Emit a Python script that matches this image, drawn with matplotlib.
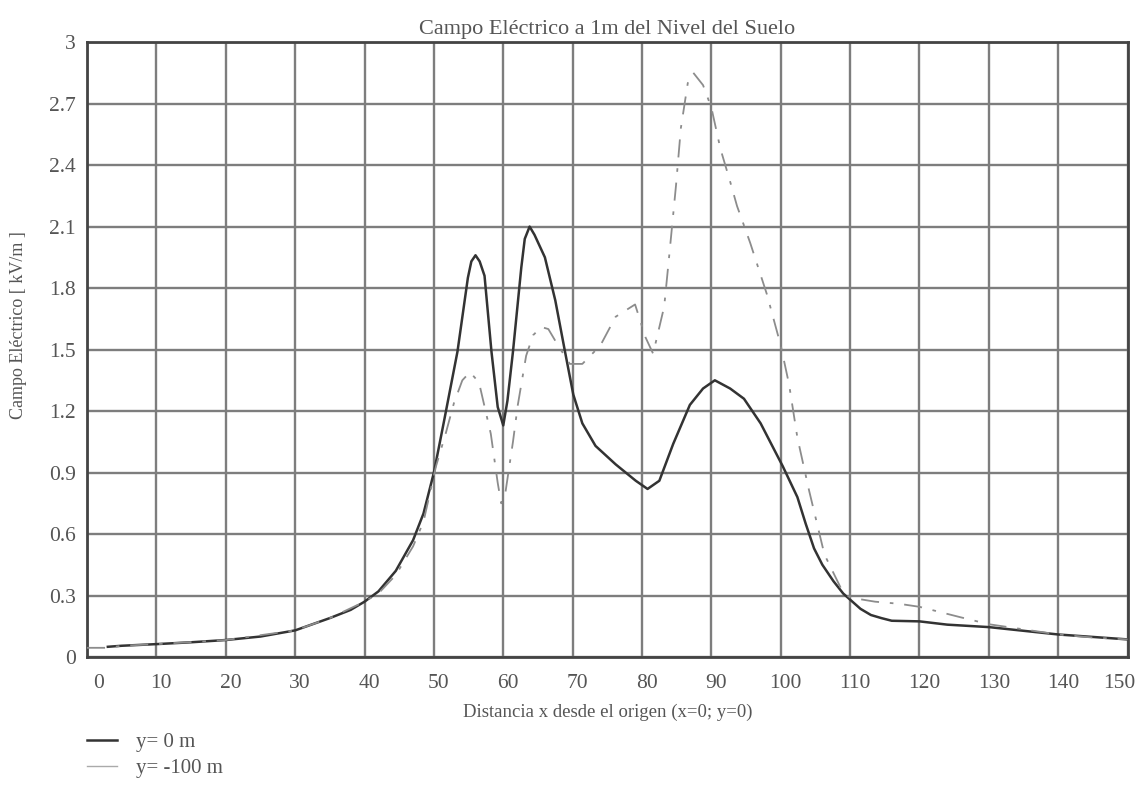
import matplotlib
matplotlib.use("Agg")
import matplotlib.pyplot as plt
from matplotlib.transforms import ScaledTranslation

# ---- data ----
x_y0 = [3, 5, 10, 15, 20, 25, 30, 35, 38, 40, 42, 44.5, 47, 48.5, 50, 51.4,
        53.4, 54.9, 55.4, 56.0, 56.6, 57.3, 58.3, 59.2, 60, 60.6, 61.4, 62.6,
        63.1, 63.8, 64.5, 66, 67.5, 68.9, 70.1, 71.4, 73.3, 76.2, 79.1, 80.8,
        82.5, 84.5, 86.9, 88.8, 90.5, 92.7, 94.7, 97.1, 100.3, 102.4, 103.6,
        104.8, 106, 107.6, 109, 110, 111.5, 113, 114.5, 116, 120, 124, 130,
        135, 140, 145, 150]
e_y0 = [0.05, 0.055, 0.063, 0.072, 0.083, 0.10, 0.13, 0.19, 0.23, 0.27, 0.32,
        0.42, 0.57, 0.70, 0.90, 1.14, 1.49, 1.85, 1.93, 1.96, 1.93, 1.86, 1.49,
        1.22, 1.13, 1.25, 1.49, 1.90, 2.04, 2.10, 2.06, 1.95, 1.74, 1.49, 1.28,
        1.14, 1.03, 0.94, 0.86, 0.82, 0.86, 1.04, 1.23, 1.31, 1.35, 1.31, 1.26,
        1.14, 0.93, 0.78, 0.65, 0.53, 0.45, 0.37, 0.31, 0.28, 0.235, 0.205,
        0.19, 0.177, 0.174, 0.158, 0.146, 0.128, 0.11, 0.098, 0.086]

x_y100 = [0, 3, 5, 10, 20, 30, 35, 40, 42, 44.5, 47, 48.5, 50.3, 51.7, 52.9,
          54.1, 55.2, 56.5, 58.2, 59.2, 59.7, 60.3, 61.4, 62.1, 63.3, 64.3,
          65.5, 66.5, 67.9, 69.6, 71.4, 74, 76.2, 79, 80.5, 81.6, 83.2, 83.9,
          84.9, 85.6, 86.6, 87.4, 88.8, 90, 91.3, 92.7, 93.7, 95.6, 98, 100,
          101.2, 102.4, 104.1, 106.3, 108.9, 110, 113.6, 117, 120, 122.9, 125.8,
          130, 135, 140, 145, 150]
e_y100 = [0.045, 0.045, 0.055, 0.063, 0.083, 0.13, 0.19, 0.27, 0.31, 0.40, 0.54,
          0.66, 0.93, 1.09, 1.24, 1.35, 1.39, 1.34, 1.09, 0.85, 0.75, 0.80, 1.05,
          1.23, 1.47, 1.57, 1.61, 1.60, 1.52, 1.43, 1.43, 1.52, 1.66, 1.72, 1.56,
          1.48, 1.71, 1.95, 2.30, 2.58, 2.80, 2.85, 2.79, 2.68, 2.48, 2.32, 2.20,
          2.02, 1.77, 1.52, 1.33, 1.07, 0.81, 0.50, 0.32, 0.29, 0.27, 0.26, 0.245,
          0.22, 0.195, 0.16, 0.135, 0.11, 0.095, 0.086]

x_ticks = [0, 10, 20, 30, 40, 50, 60, 70, 80, 90, 100, 110, 120, 130, 140, 150]
y_ticks = [0, 0.3, 0.6, 0.9, 1.2, 1.5, 1.8, 2.1, 2.4, 2.7, 3]
y_ticklabels = ["0", "0.3", "0.6", "0.9", "1.2", "1.5", "1.8", "2.1", "2.4", "2.7", "3"]
labels = ["y= 0 m", "y= -100 m"]

plt.rcParams['font.family'] = ['Liberation Serif', 'DejaVu Serif']
txt = '#555555'

fig = plt.figure(figsize=(11.39, 7.94), dpi=100)
ax = fig.add_axes([0.0764, 0.1725, 0.9136, 0.7745])

ax.plot(x_y0, e_y0, color='#333333', lw=1.8, label=labels[0], zorder=3)
ax.plot(x_y100, e_y100, color='#8c8c8c', lw=1.3, linestyle=(0, (10, 6, 2, 6)),
        label=labels[1], zorder=3)

ax.set_xlim(0, 150)
ax.set_ylim(0, 3)
ax.set_xticks(x_ticks)
ax.set_xticklabels([str(t) for t in x_ticks])
ax.set_yticks(y_ticks)
ax.set_yticklabels(y_ticklabels)
ax.tick_params(length=0, labelsize=15.5, labelcolor=txt)
ax.tick_params(axis='x', pad=12)
ax.tick_params(axis='y', pad=8)
ax.grid(True, color='#7d7d7d', lw=1.7)
ax.set_axisbelow(True)
for s in ax.spines.values():
    s.set_color('#444444')
    s.set_linewidth(2)

# small horizontal offsets of the x tick labels as in the reference
xt = ax.get_xticklabels()
for i, lab in enumerate(xt):
    dx = 5
    if i == 0:
        dx = 12
    if i == len(xt) - 1:
        lab.set_horizontalalignment('right')
        dx = 8
    lab.set_transform(lab.get_transform() +
                      ScaledTranslation(dx / 100, 0, fig.dpi_scale_trans))

ax.set_title("Campo Eléctrico a 1m del Nivel del Suelo", fontsize=16,
             color=txt, pad=6)
ax.set_xlabel("Distancia x desde el origen (x=0; y=0)", fontsize=13.5,
              color=txt, labelpad=8)
ax.set_ylabel("Campo Eléctrico [ kV/m ]", fontsize=13, color=txt)
ax.yaxis.set_label_coords(-0.058, 0.54)

leg = fig.legend(loc='upper left', bbox_to_anchor=(87 / 1139, 0.077),
                 frameon=False, fontsize=15, handlelength=1.45,
                 labelspacing=0.3, handletextpad=0.9, borderpad=0,
                 borderaxespad=0)
for t in leg.get_texts():
    t.set_color(txt)
leg.get_lines()[1].set_linestyle('-')
leg.get_lines()[1].set_color('#aaaaaa')
leg.get_lines()[1].set_linewidth(1.0)

fig.savefig("out.png", dpi=100)
